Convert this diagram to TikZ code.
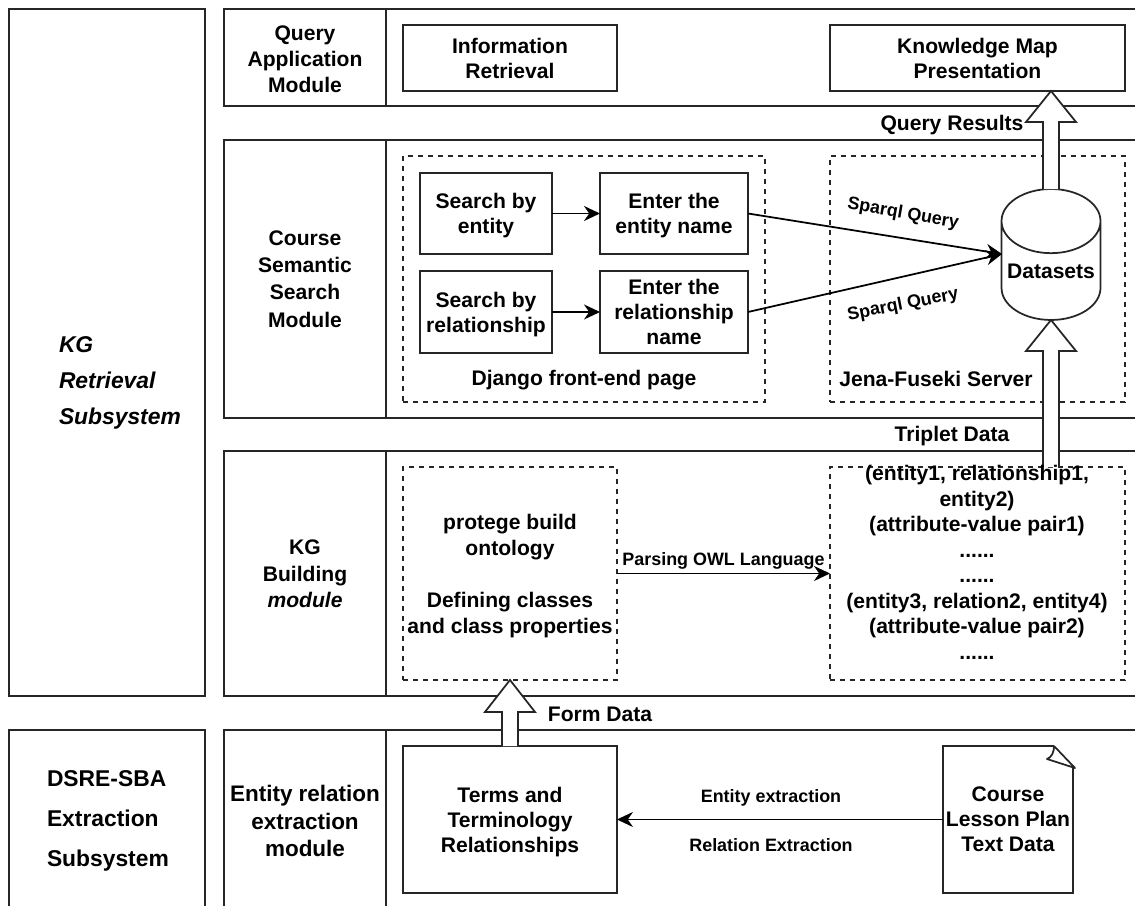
\documentclass[tikz,border=0pt]{standalone}
\usepackage{fontspec}
\setmainfont{Liberation Sans}
\usepackage{tikz}
\usetikzlibrary{positioning}
\usetikzlibrary{calc,shapes.geometric,arrows.meta}

\newcommand{\blockarrow}[3]{\draw [blockline] let \p1=#1, \p2=#2 in
  (\x1-0.16cm,\y1) -- (\x1-0.16cm,\y2-#3) -- (\x1-0.5cm,\y2-#3) -- (\x1,\y2) -- (\x1+0.5cm,\y2-#3) -- (\x1+0.16cm,\y2-#3) -- (\x1+0.16cm,\y1);}
\newcommand{\up}{\rule{0pt}{11.2pt}}

\begin{document}
\begin{tikzpicture} [x=0.02cm,y=-0.02cm,every node/.style={outer sep=0pt,inner sep=0pt,align=center,font=\fontsize{12}{14.2}\selectfont\bfseries},]

\tikzstyle{frame}=[line width=0.04cm,black!85]
\tikzstyle{box}=[draw,line width=0.035cm,black!85,text=black,anchor=north west]
\tikzstyle{dashbox}=[draw,line width=0.03cm,black!85,text=black,anchor=north west,dash pattern=on 0.1cm off 0.1cm]
\tikzstyle{flow}=[line width=0.035cm,-{Stealth[length=0.32cm,width=0.3cm]}]
\tikzstyle{blockline}=[line width=0.035cm,black!85,fill=white]
\tikzstyle{small}=[font=\fontsize{10.2}{13}\selectfont\bfseries]

\useasboundingbox (0,0) rectangle (1135,906);

% subsystems
\draw [frame] (9,9) rectangle (205,696);
\draw [frame] (9,906) -- (9,730) -- (205,730) -- (205,906);
\node (retrieval) [anchor=west,align=left,font=\fontsize{13}{20.5}\selectfont\bfseries\itshape] at (59,383) {KG\\Retrieval\\Subsystem};
\node (extraction) [anchor=west,align=left,font=\fontsize{13}{22.8}\selectfont\bfseries] at (47,821) {DSRE-SBA\\Extraction\\Subsystem};

% modules
\draw [frame] (1135,9) -- (224,9) -- (224,106) -- (1135,106) (386,9) -- (386,106);
\draw [frame] (1135,140) -- (224,140) -- (224,418) -- (1135,418) (386,140) -- (386,418);
\draw [frame] (1135,451) -- (224,451) -- (224,696) -- (1135,696) (386,451) -- (386,696);
\draw [frame] (1135,730) -- (224,730) -- (224,906) (386,730) -- (386,906);

\node (querymod) [font=\fontsize{12}{14.8}\selectfont\bfseries] at (305,59) {Query\\Application\\Module};
\node (searchmod) [font=\fontsize{12}{15.6}\selectfont\bfseries] at (305,279) {Course\\Semantic\\Search\\Module};
\node (buildmod) [font=\fontsize{12}{15}\selectfont\bfseries] at (305,574) {KG\\Building\\\textit{module}};
\node (extractmod) [font=\fontsize{12.8}{15.4}\selectfont\bfseries] at (305,821) {Entity relation\\extraction\\module};

% query application
\node (info) [box,minimum width=4.28cm,minimum height=1.32cm] at (403,25) {Information\\Retrieval};
\node (map) [box,minimum width=5.9cm,minimum height=1.32cm] at (830,25) {Knowledge Map\\Presentation};

% search
\node (django) [dashbox,minimum width=7.24cm,minimum height=4.92cm] at (403,156) {};
\node (jena) [dashbox,minimum width=5.9cm,minimum height=4.92cm] at (830,156) {};
\node (djangotext) [above=0.24cm of django.south] {Django front-end page};
\node (jenatext) at (936,379) {Jena-Fuseki Server};

\node (byentity) [box,minimum width=2.64cm,minimum height=1.62cm] at (420,173) {\up Search by\\entity};
\node (enterentity) [box,minimum width=2.96cm,minimum height=1.62cm] at (600,173) {\up Enter the\\entity name};
\node (byrelation) [box,minimum width=2.64cm,minimum height=1.64cm] at (420,271) {\up Search by\\relationship};
\node (enterrelation) [box,minimum width=2.96cm,minimum height=1.64cm] at (600,271) {Enter the\\relationship\\name};

\node (data) [draw,line width=0.035cm,black!85,text=black,anchor=north,cylinder,shape border rotate=90,aspect=0.73,minimum width=1.98cm,minimum height=2.62cm] at (1051,189) {Datasets};
\coordinate (datain) at (1002,254);

\draw [flow] (byentity) -- (enterentity);
\draw [flow] (byrelation) -- (enterrelation);
\draw [flow] (enterentity.east) -- (datain);
\draw [flow] (enterrelation.east) -- (datain);
\node (sparqlone) [small,rotate=-10] at (903,214) {Sparql Query};
\node (sparqltwo) [small,rotate=11] at (903,305) {Sparql Query};

% building
\node (protege) [dashbox,minimum width=4.28cm,minimum height=4.26cm,font=\fontsize{12}{14.8}\selectfont\bfseries] at (403,467) {\up protege build\\ontology\\ \\Defining classes\\and class properties};
\node (triplet) [dashbox,minimum width=5.9cm,minimum height=4.26cm] at (830,467) {};
\draw [flow] (protege) -- node (owl) [small,above=0.08cm] {Parsing OWL Language} (triplet);

% extraction
\node (terms) [box,minimum width=4.28cm,minimum height=2.94cm] at (403,746) {\up Terms and\\Terminology\\Relationships};
\node (course) [anchor=north west,minimum width=2.6cm,minimum height=2.94cm] at (943,746) {Course\\Lesson Plan\\Text Data};
\draw [line width=0.035cm,black!85] (1054,746) -- (course.north west) -- (course.south west) -- (course.south east) -- (1073,768);
\draw [line width=0.035cm,black!85,line join=round] (1054,746) -- (1075,768) -- (1047,759) .. controls (1052,757) and (1054,752) .. (1054,746);
\draw [flow] (course.west) -- (terms.east);
\node (entityex) [small] at (771,798) {Entity extraction};
\node (relationex) [small] at (771,845) {Relation Extraction};

% big arrows
\blockarrow{(data.north)}{(map.south -| data.north)}{0.62cm}
\blockarrow{(triplet.north -| data.south)}{(data.south)}{0.62cm}
\blockarrow{(terms.north)}{(protege.south)}{0.64cm}

\node (results) at (952,125) {Query Results};
\node (tripletlabel) at (952,436) {Triplet Data};
\node (form) at (600,714) {Form Data};
\node (triples) [font=\fontsize{12}{14.5}\selectfont\bfseries] at (977,562.5) {(entity1, relationship1,\\entity2)\\(attribute-value pair1)\\......\\......\\(entity3, relation2, entity4)\\(attribute-value pair2)\\......};

\end{tikzpicture}
\end{document}
